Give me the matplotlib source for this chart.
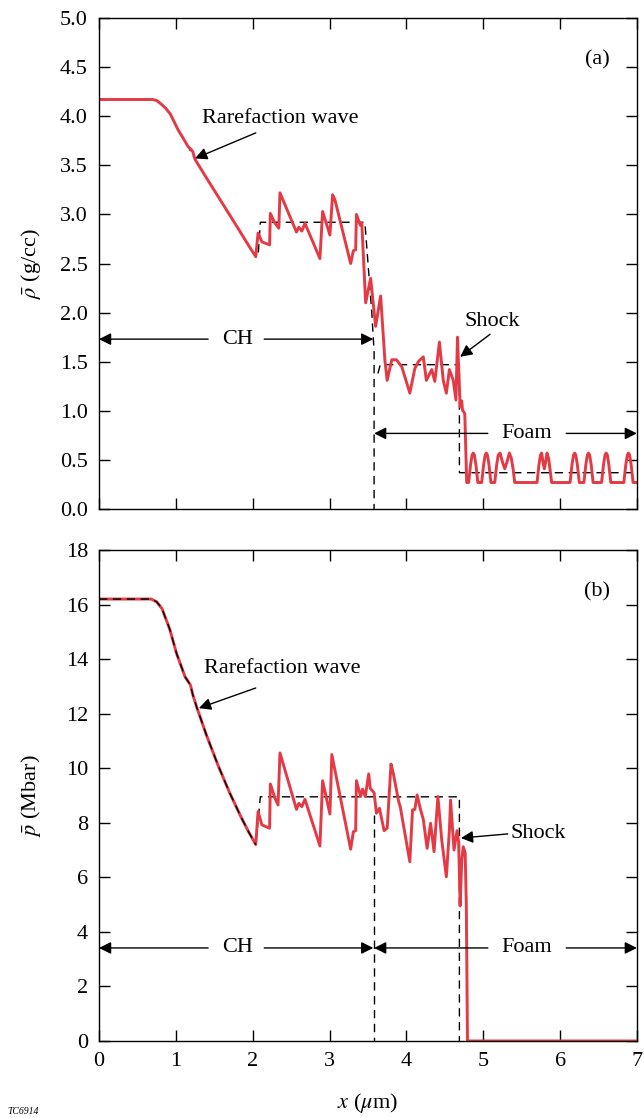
import matplotlib
matplotlib.use("Agg")
import matplotlib.pyplot as plt
import numpy as np

plt.rcParams['font.family'] = ['Liberation Serif', 'DejaVu Serif']
plt.rcParams['mathtext.fontset'] = 'stix'

RED = '#e43a45'
FONT = 16

# (a) density, simulation (red)
rho_x = [0.0, 0.70, 0.75, 0.80, 0.87, 0.93, 1.03, 1.10, 1.16, 1.20, 1.22, 1.25, 1.40, 1.60, 1.80, 1.95, 2.04,
         2.07, 2.12, 2.22, 2.23, 2.29, 2.34, 2.355, 2.57, 2.60, 2.64, 2.68, 2.875, 2.91, 3.005, 3.04, 3.07,
         3.275, 3.31, 3.34, 3.35, 3.40, 3.42, 3.47, 3.535, 3.60, 3.665, 3.72, 3.75, 3.81, 3.87, 3.94, 4.045,
         4.11, 4.155, 4.22, 4.26, 4.33, 4.37, 4.43, 4.48, 4.52, 4.56, 4.61, 4.645, 4.665, 4.70, 4.72, 4.73,
         4.76, 4.785,
         4.81, 4.835, 4.855, 4.87, 4.885, 4.905, 4.93, 4.98, 5.005, 5.025, 5.04, 5.055, 5.075, 5.10,
         5.15, 5.175, 5.195, 5.22, 5.25, 5.28, 5.31, 5.34, 5.365, 5.39, 5.41,
         5.70, 5.725, 5.745, 5.76, 5.78, 5.795, 5.81, 5.83, 5.85, 5.87, 5.89,
         6.13, 6.155, 6.175, 6.19, 6.205, 6.225, 6.25,
         6.31, 6.335, 6.355, 6.37, 6.385, 6.405, 6.43,
         6.54, 6.565, 6.585, 6.60, 6.615, 6.635, 6.66,
         6.83, 6.855, 6.875, 6.89, 6.905, 6.925, 6.95, 7.0]
rho_y = [4.17, 4.17, 4.16, 4.13, 4.08, 4.02, 3.86, 3.77, 3.69, 3.66, 3.64, 3.56, 3.37, 3.12, 2.87, 2.68, 2.57,
         2.81, 2.72, 2.69, 3.01, 2.91, 2.86, 3.22, 2.82, 2.87, 2.83, 2.91, 2.55, 3.03, 2.79, 3.20, 3.15,
         2.50, 2.63, 2.64, 3.00, 2.89, 2.91, 2.10, 2.35, 1.86, 2.17, 1.52, 1.31, 1.52, 1.52, 1.45, 1.18,
         1.43, 1.50, 1.55, 1.31, 1.42, 1.30, 1.70, 1.31, 1.18, 1.42, 1.31, 1.11, 1.75, 1.04, 1.10, 1.01,
         0.97, 0.27,
         0.27, 0.45, 0.55, 0.57, 0.55, 0.45, 0.27, 0.27, 0.45, 0.55, 0.57, 0.55, 0.45, 0.27,
         0.27, 0.45, 0.55, 0.57, 0.48, 0.41, 0.48, 0.57, 0.52, 0.40, 0.27,
         0.27, 0.45, 0.55, 0.57, 0.47, 0.41, 0.47, 0.57, 0.52, 0.40, 0.27,
         0.27, 0.45, 0.55, 0.57, 0.55, 0.45, 0.27,
         0.27, 0.45, 0.55, 0.57, 0.55, 0.45, 0.27,
         0.27, 0.45, 0.55, 0.57, 0.55, 0.45, 0.27,
         0.27, 0.45, 0.55, 0.57, 0.55, 0.45, 0.27, 0.27]

# (a) density, 1-D model (dashed)
rho_model_x = [0.0, 0.70, 0.75, 0.80, 0.87, 0.93, 1.03, 1.10, 1.16, 1.25, 1.40, 1.60, 1.80, 1.95, 2.04, 2.07,
               2.10, 3.46, 3.55, 3.58, 3.58]
rho_model_y = [4.17, 4.17, 4.16, 4.13, 4.08, 4.02, 3.86, 3.77, 3.69, 3.56, 3.37, 3.12, 2.87, 2.68, 2.57, 2.57,
               2.92, 2.92, 2.00, 1.60, 0.0]
foam_model_x = [3.63, 3.66, 4.69, 4.69, 7.0]
foam_model_y = [1.38, 1.47, 1.47, 0.37, 0.37]

# (b) pressure, simulation (red)
p_x = [0.0, 0.68, 0.75, 0.82, 0.92, 1.01, 1.12, 1.19, 1.22, 1.27, 1.40, 1.55, 1.70, 1.85, 1.95, 2.04,
       2.07, 2.12, 2.22, 2.23, 2.29, 2.33, 2.355, 2.57, 2.60, 2.64, 2.68, 2.875, 2.91, 3.005, 3.03,
       3.275, 3.31, 3.34, 3.35, 3.405, 3.43, 3.465, 3.51, 3.53, 3.58, 3.61, 3.65, 3.71, 3.75, 3.80, 3.83,
       3.90, 3.92, 4.045, 4.08, 4.11, 4.14, 4.185, 4.22, 4.27, 4.315, 4.36, 4.41, 4.46, 4.52, 4.56, 4.575,
       4.62, 4.66, 4.68, 4.70, 4.72, 4.74, 4.765, 4.78, 4.795, 7.0]
p_y = [16.2, 16.2, 16.1, 15.85, 15.1, 14.2, 13.35, 13.05, 12.7, 12.25, 11.2, 10.1, 9.1, 8.2, 7.65, 7.2,
       8.41, 7.92, 7.80, 9.42, 8.90, 8.65, 10.56, 8.49, 8.71, 8.59, 8.86, 7.15, 9.54, 8.32, 10.5,
       7.03, 7.67, 7.71, 9.54, 8.96, 9.23, 8.96, 9.79, 9.26, 9.10, 8.35, 8.53, 7.71, 7.80, 10.15, 9.81,
       8.77, 8.59, 6.57, 8.47, 8.49, 9.02, 8.47, 8.13, 7.06, 7.98, 6.94, 8.96, 7.37, 6.02, 7.73, 8.83,
       7.0, 7.71, 7.3, 4.95, 6.6, 7.12, 6.9, 5.0, 0.0, 0.0]

# (b) pressure, 1-D model (dashed)
p_model_x = [0.0, 0.68, 0.75, 0.82, 0.92, 1.01, 1.12, 1.19, 1.22, 1.27, 1.40, 1.55, 1.70, 1.85, 1.95, 2.04]
p_model_y = [16.2, 16.2, 16.1, 15.85, 15.1, 14.2, 13.35, 13.05, 12.7, 12.25, 11.2, 10.1, 9.1, 8.2, 7.65, 7.2]
p_plateau_x = [2.04, 2.10, 4.69, 4.69]
p_plateau_y = [7.2, 8.95, 8.95, 0.0]
contact_x = [3.58, 3.58]
contact_y = [8.3, 0.0]


def style_axes(ax):
    ax.tick_params(direction='in', length=8, width=1, top=True, right=True,
                   labelsize=FONT, pad=8)
    for s in ax.spines.values():
        s.set_linewidth(1)


def span_arrows(ax, y, x0, x1, label, xl, xr, xt):
    kw = dict(arrowstyle='-|>', color='black', lw=1, mutation_scale=18,
              shrinkA=0, shrinkB=0)
    ax.annotate('', xy=(x0, y), xytext=(xl, y), arrowprops=kw)
    ax.annotate('', xy=(x1, y), xytext=(xr, y), arrowprops=kw)
    ax.text(xt, y, label, ha='center', va='center', fontsize=FONT)


def pointer(ax, text, tx, ty, tail, tip):
    ax.text(tx, ty, text, ha='left', va='center', fontsize=FONT)
    ax.annotate('', xy=tip, xytext=tail,
                arrowprops=dict(arrowstyle='-|>', color='black', lw=1,
                                mutation_scale=18, shrinkA=0, shrinkB=0))


fig = plt.figure(figsize=(6.44, 11.18), dpi=100)
ax1 = fig.add_axes([0.1537, 0.5447, 0.8353, 0.4392])
ax2 = fig.add_axes([0.1537, 0.0689, 0.8353, 0.4392])

dash = dict(color='black', lw=1, dashes=(6, 4))

# top panel: density
ax1.plot(rho_model_x, rho_model_y, zorder=1, **dash)
ax1.plot(foam_model_x, foam_model_y, zorder=1, **dash)
ax1.plot(rho_x, rho_y, color=RED, lw=2.1, zorder=2, solid_joinstyle='round')
ax1.set_xlim(0, 7)
ax1.set_ylim(0, 5)
ax1.set_yticks(np.arange(0, 5.01, 0.5))
ax1.set_yticklabels(['%.1f' % v for v in np.arange(0, 5.01, 0.5)])
ax1.set_xticks(range(8))
ax1.set_xticklabels([])
ax1.set_ylabel(r'$\bar{\rho}$ (g/cc)', fontsize=FONT, labelpad=12)
style_axes(ax1)
ax1.text(6.48, 4.57, '(a)', ha='center', va='center', fontsize=FONT)
pointer(ax1, 'Rarefaction wave', 1.34, 3.98, (2.04, 3.83), (1.25, 3.57))
pointer(ax1, 'Shock', 4.75, 1.91, (5.09, 1.78), (4.70, 1.55))
span_arrows(ax1, 1.73, 0.0, 3.57, 'CH', 1.42, 2.15, 1.80)
span_arrows(ax1, 0.77, 3.58, 7.0, 'Foam', 5.06, 6.08, 5.57)

# bottom panel: pressure
ax2.plot(p_plateau_x, p_plateau_y, zorder=1, **dash)
ax2.plot(contact_x, contact_y, zorder=1, **dash)
ax2.plot(p_x, p_y, color=RED, lw=2.1, zorder=2, solid_joinstyle='round')
ax2.plot(p_model_x, p_model_y, zorder=3, **dash)
ax2.set_xlim(0, 7)
ax2.set_ylim(0, 18)
ax2.set_yticks(range(0, 19, 2))
ax2.set_xticks(range(8))
ax2.set_ylabel(r'$\bar{p}$ (Mbar)', fontsize=FONT, labelpad=16)
ax2.set_xlabel(r'$x$ ($\mu$m)', fontsize=FONT, labelpad=14)
style_axes(ax2)
ax2.text(6.48, 16.46, '(b)', ha='center', va='center', fontsize=FONT)
pointer(ax2, 'Rarefaction wave', 1.37, 13.67, (2.04, 12.94), (1.30, 12.2))
pointer(ax2, 'Shock', 5.35, 7.62, (5.32, 7.59), (4.71, 7.44))
span_arrows(ax2, 3.41, 0.0, 3.57, 'CH', 1.42, 2.15, 1.80)
span_arrows(ax2, 3.41, 3.58, 7.0, 'Foam', 5.06, 6.08, 5.57)

fig.text(0.012, 0.002, 'TC6914', fontsize=7, style='italic', va='bottom')

fig.savefig('out.png', dpi=100)
